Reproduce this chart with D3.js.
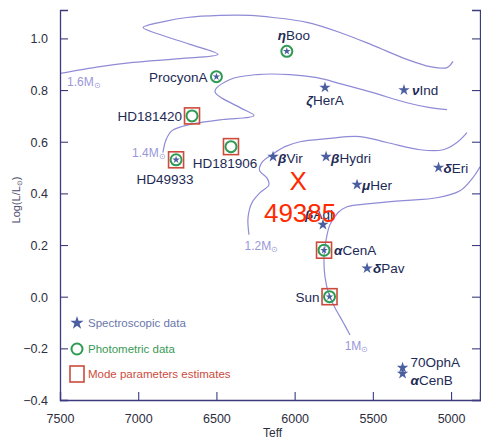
<!DOCTYPE html>
<html>
<head>
<meta charset="utf-8">
<script src="https://cdn.jsdelivr.net/npm/d3@7"></script>
<style>
  body { margin: 0; background: #fff; }
  svg { display: block; font-family: "Liberation Sans", Arial, sans-serif; }
</style>
</head>
<body>
<svg id="chart" width="481" height="441"></svg>
<script>
// stars: [name, Teff, logL]
const spectroStars = [
    ["ProcyonA", 6500, 0.852], ["ηBoo", 6050, 0.950], ["ζHerA", 5806, 0.810],
    ["νInd", 5301, 0.800], ["HD49933", 6758, 0.530], ["βVir", 6138, 0.542],
    ["βHydri", 5799, 0.542], ["μHer", 5601, 0.434], ["δEri", 5080, 0.500],
    ["βAql", 5819, 0.279], ["αCenA", 5812, 0.180], ["δPav", 5537, 0.110],
    ["Sun", 5777, 0.000], ["70OphA", 5310, -0.275], ["αCenB", 5310, -0.298]
];
const photoStars = ["ProcyonA", "ηBoo", "HD181420", "HD181906", "HD49933", "αCenA", "Sun"];
const modeStars = ["HD181420", "HD181906", "HD49933", "αCenA", "Sun"];
const photoOnly = [["HD181420", 6656, 0.700], ["HD181906", 6407, 0.581]];

// label placement: [name, dx, dy, anchor]
const labelPos = [
    ["ProcyonA", -9, 5, "end"], ["ηBoo", 7, -11, "middle"], ["ζHerA", 0, 18, "middle"],
    ["νInd", 8, 5, "start"], ["HD181420", -10, 5, "end"], ["HD181906", -6, 21, "middle"],
    ["HD49933", -11, 24, "middle"], ["βVir", 5, 6, "start"], ["βHydri", 5, 6, "start"],
    ["μHer", 5, 5, "start"], ["δEri", 5, 5, "start"], ["βAql", -4, -6, "middle"],
    ["αCenA", 10, 5, "start"], ["δPav", 6, 5, "start"], ["Sun", -10, 5, "end"],
    ["70OphA", 8, -1, "start"], ["αCenB", 8, 11, "start"]
];

// evolutionary tracks [Teff, logL]
const track16 = [[7520, 0.862], [7244, 0.891], [7033, 0.907], [6733, 0.922], [6490, 0.938],
    [6669, 0.977], [6861, 1.015], [6969, 1.042], [6829, 1.066], [6688, 1.081], [6477, 1.089],
    [6285, 1.089], [6138, 1.081], [5921, 1.062], [5710, 1.023], [5499, 0.973], [5282, 0.919],
    [5135, 0.891], [5026, 0.887], [4988, 0.911]];
const track14 = [[6842, 0.558], [6822, 0.608], [6784, 0.643], [6720, 0.659], [6605, 0.674],
    [6458, 0.686], [6260, 0.701], [6349, 0.732], [6509, 0.794], [6413, 0.841], [6241, 0.860],
    [6030, 0.860], [5857, 0.848], [5710, 0.825], [5499, 0.790], [5282, 0.751], [5135, 0.732],
    [5026, 0.724]];
const track12 = [[6292, 0.240], [6298, 0.306], [6273, 0.364], [6221, 0.403], [6165, 0.432],
    [6175, 0.458], [6225, 0.490], [6205, 0.523], [6145, 0.550], [6062, 0.581], [5966, 0.600],
    [5793, 0.612], [5582, 0.620], [5409, 0.597], [5198, 0.569], [5051, 0.569], [4962, 0.597],
    [4898, 0.635]];
const track10 = [[5646, -0.148], [5691, -0.098], [5742, -0.043], [5780, 0.007], [5806, 0.077],
    [5812, 0.154], [5799, 0.220], [5774, 0.279], [5723, 0.325], [5665, 0.348], [5518, 0.360],
    [5307, 0.372], [5090, 0.383], [4943, 0.410], [4860, 0.461], [4815, 0.503]];
const trackLabels = [["1.6M", 7455, 0.814], ["1.4M", 7040, 0.542], ["1.2M", 6320, 0.18], ["1M", 5680, -0.206]];

const xTicks = [7500, 7000, 6500, 6000, 5500, 5000];
const yTicks = [-0.4, -0.2, 0.0, 0.2, 0.4, 0.6, 0.8, 1.0];
const target = { teff: 5978, logL: 0.449, label: "49385" };

const svg = d3.select("#chart");
const margin = { top: 10, right: 1, bottom: 41, left: 60 };
const W = 481, H = 441;
const axisColor = "#3b3b7e";

const x = d3.scaleLinear().domain([7500, 4815]).range([margin.left, W - margin.right]);
const y = d3.scaleLinear().domain([-0.4, 1.11]).range([H - margin.bottom, margin.top]);

svg.append("defs").append("clipPath").attr("id", "plot")
    .append("rect").attr("x", margin.left).attr("y", margin.top)
    .attr("width", W - margin.right - margin.left).attr("height", H - margin.bottom - margin.top);

// tracks
const line = d3.line().x(d => x(d[0])).y(d => y(d[1])).curve(d3.curveCatmullRom.alpha(0.5));
const tracks = svg.append("g").attr("clip-path", "url(#plot)");
[track16, track14, track12, track10].forEach(t => {
    tracks.append("path").attr("d", line(t))
        .attr("fill", "none").attr("stroke", "#8f8bd6").attr("stroke-width", 1.2);
});
trackLabels.forEach(l => {
    const t = svg.append("text").attr("x", x(l[1])).attr("y", y(l[2]))
        .attr("fill", "#9a97d9").attr("font-size", 12).text(l[0]);
    t.append("tspan").attr("font-size", 8).attr("dy", 2).text("⊙");
});

// axes
function minorRange(a, b, step) {
    const out = [];
    for (let v = a; v <= b + 1e-9; v += step) out.push(+v.toFixed(3));
    return out;
}
const xAxisG = svg.append("g").attr("transform", `translate(0,${y(-0.4)})`);
xAxisG.call(d3.axisBottom(x).tickValues(minorRange(4900, 7500, 100)).tickSize(-4).tickFormat(""));
xAxisG.call(d3.axisBottom(x).tickValues(xTicks).tickSize(-8).tickPadding(14).tickFormat(d3.format("d")));
const yAxisG = svg.append("g").attr("transform", `translate(${x(7500)},0)`);
yAxisG.call(d3.axisLeft(y).tickValues(minorRange(-0.4, 1.1, 0.05)).tickSize(-4).tickFormat(""));
yAxisG.call(d3.axisLeft(y).tickValues(yTicks).tickSize(-8).tickPadding(12).tickFormat(d3.format(".1f")));
const yAxisR = svg.append("g").attr("transform", `translate(${W - 1},0)`);
yAxisR.call(d3.axisRight(y).tickValues(minorRange(-0.4, 1.1, 0.05)).tickSize(-4).tickFormat(""));
yAxisR.call(d3.axisRight(y).tickValues(yTicks).tickSize(-8).tickFormat(""));
svg.selectAll(".domain").attr("stroke", axisColor).attr("stroke-width", 1.3);
svg.selectAll(".tick line").attr("stroke", axisColor).attr("stroke-width", 1.1);
svg.selectAll(".tick text").attr("fill", "#2e2e3e").attr("font-size", 12.5);
yAxisG.selectAll(".tick text").attr("dy", "0.35em");

svg.append("text").attr("x", x(6000) - 22).attr("y", 437).attr("text-anchor", "middle")
    .attr("fill", "#2e2e3e").attr("font-size", 12).text("Teff");
const yt = svg.append("text").attr("transform", "translate(20,200) rotate(-90)")
    .attr("text-anchor", "middle").attr("fill", "#4a4a6a").attr("font-size", 11).text("Log(L/L");
yt.append("tspan").attr("font-size", 7).attr("dy", 2).text("⊙");
yt.append("tspan").attr("dy", -2).text(")");

// markers
const allStars = spectroStars.concat(photoOnly);
const pos = {};
allStars.forEach(s => { pos[s[0]] = [x(s[1]), y(s[2])]; });
const starFill = "#4b5ea0";
const star = d3.symbol().type(d3.symbolStar);

svg.append("g").selectAll("rect").data(modeStars).join("rect")
    .attr("x", d => pos[d][0] - 7.5).attr("y", d => pos[d][1] - 8)
    .attr("width", 15).attr("height", 16)
    .attr("fill", "none").attr("stroke", "#cc4b3c").attr("stroke-width", 1.6);
svg.append("g").selectAll("circle").data(photoStars).join("circle")
    .attr("cx", d => pos[d][0]).attr("cy", d => pos[d][1]).attr("r", 5.5)
    .attr("fill", "none").attr("stroke", "#2e9a52").attr("stroke-width", 2);
svg.append("g").selectAll("path").data(spectroStars).join("path")
    .attr("transform", d => `translate(${x(d[1])},${y(d[2])})`)
    .attr("d", d => star.size(photoStars.includes(d[0]) ? 18 : 40)())
    .attr("fill", starFill);

// labels (leading greek letter drawn bold italic)
const greek = /^[αβγδζημν]/;
svg.append("g").selectAll("text").data(labelPos).join("text")
    .attr("x", d => pos[d[0]][0] + d[1]).attr("y", d => pos[d[0]][1] + d[2])
    .attr("text-anchor", d => d[3]).attr("fill", "#1d2a55").attr("font-size", 13.5)
    .each(function(d) {
        const t = d3.select(this);
        if (greek.test(d[0])) {
            t.append("tspan").attr("font-weight", "bold").attr("font-style", "italic").text(d[0][0]);
            t.append("tspan").text(d[0].slice(1));
        } else {
            t.text(d[0]);
        }
    });

// legend
const legend = svg.append("g");
legend.append("path").attr("transform", "translate(77,323)").attr("d", star.size(55)()).attr("fill", starFill);
legend.append("circle").attr("cx", 77).attr("cy", 349).attr("r", 5.5)
    .attr("fill", "none").attr("stroke", "#2e9a52").attr("stroke-width", 2);
legend.append("rect").attr("x", 70).attr("y", 366).attr("width", 14).attr("height", 16)
    .attr("fill", "none").attr("stroke", "#cc4b3c").attr("stroke-width", 1.6);
[["Spectroscopic data", 327, "#6a76a8"], ["Photometric data", 353, "#3a9a55"],
 ["Mode parameters estimates", 378, "#cc4b3c"]].forEach(l => {
    legend.append("text").attr("x", 88).attr("y", l[1]).attr("fill", l[2])
        .attr("font-size", 11.5).text(l[0]);
});

// red target mark
svg.append("text").attr("x", x(target.teff)).attr("y", y(target.logL) + 9)
    .attr("text-anchor", "middle").attr("fill", "#ff2a00").attr("font-size", 26).text("X");
svg.append("text").attr("x", x(target.teff) + 2).attr("y", y(target.logL) + 41)
    .attr("text-anchor", "middle").attr("fill", "#ff2a00").attr("font-size", 26).text(target.label);
</script>
</body>
</html>
